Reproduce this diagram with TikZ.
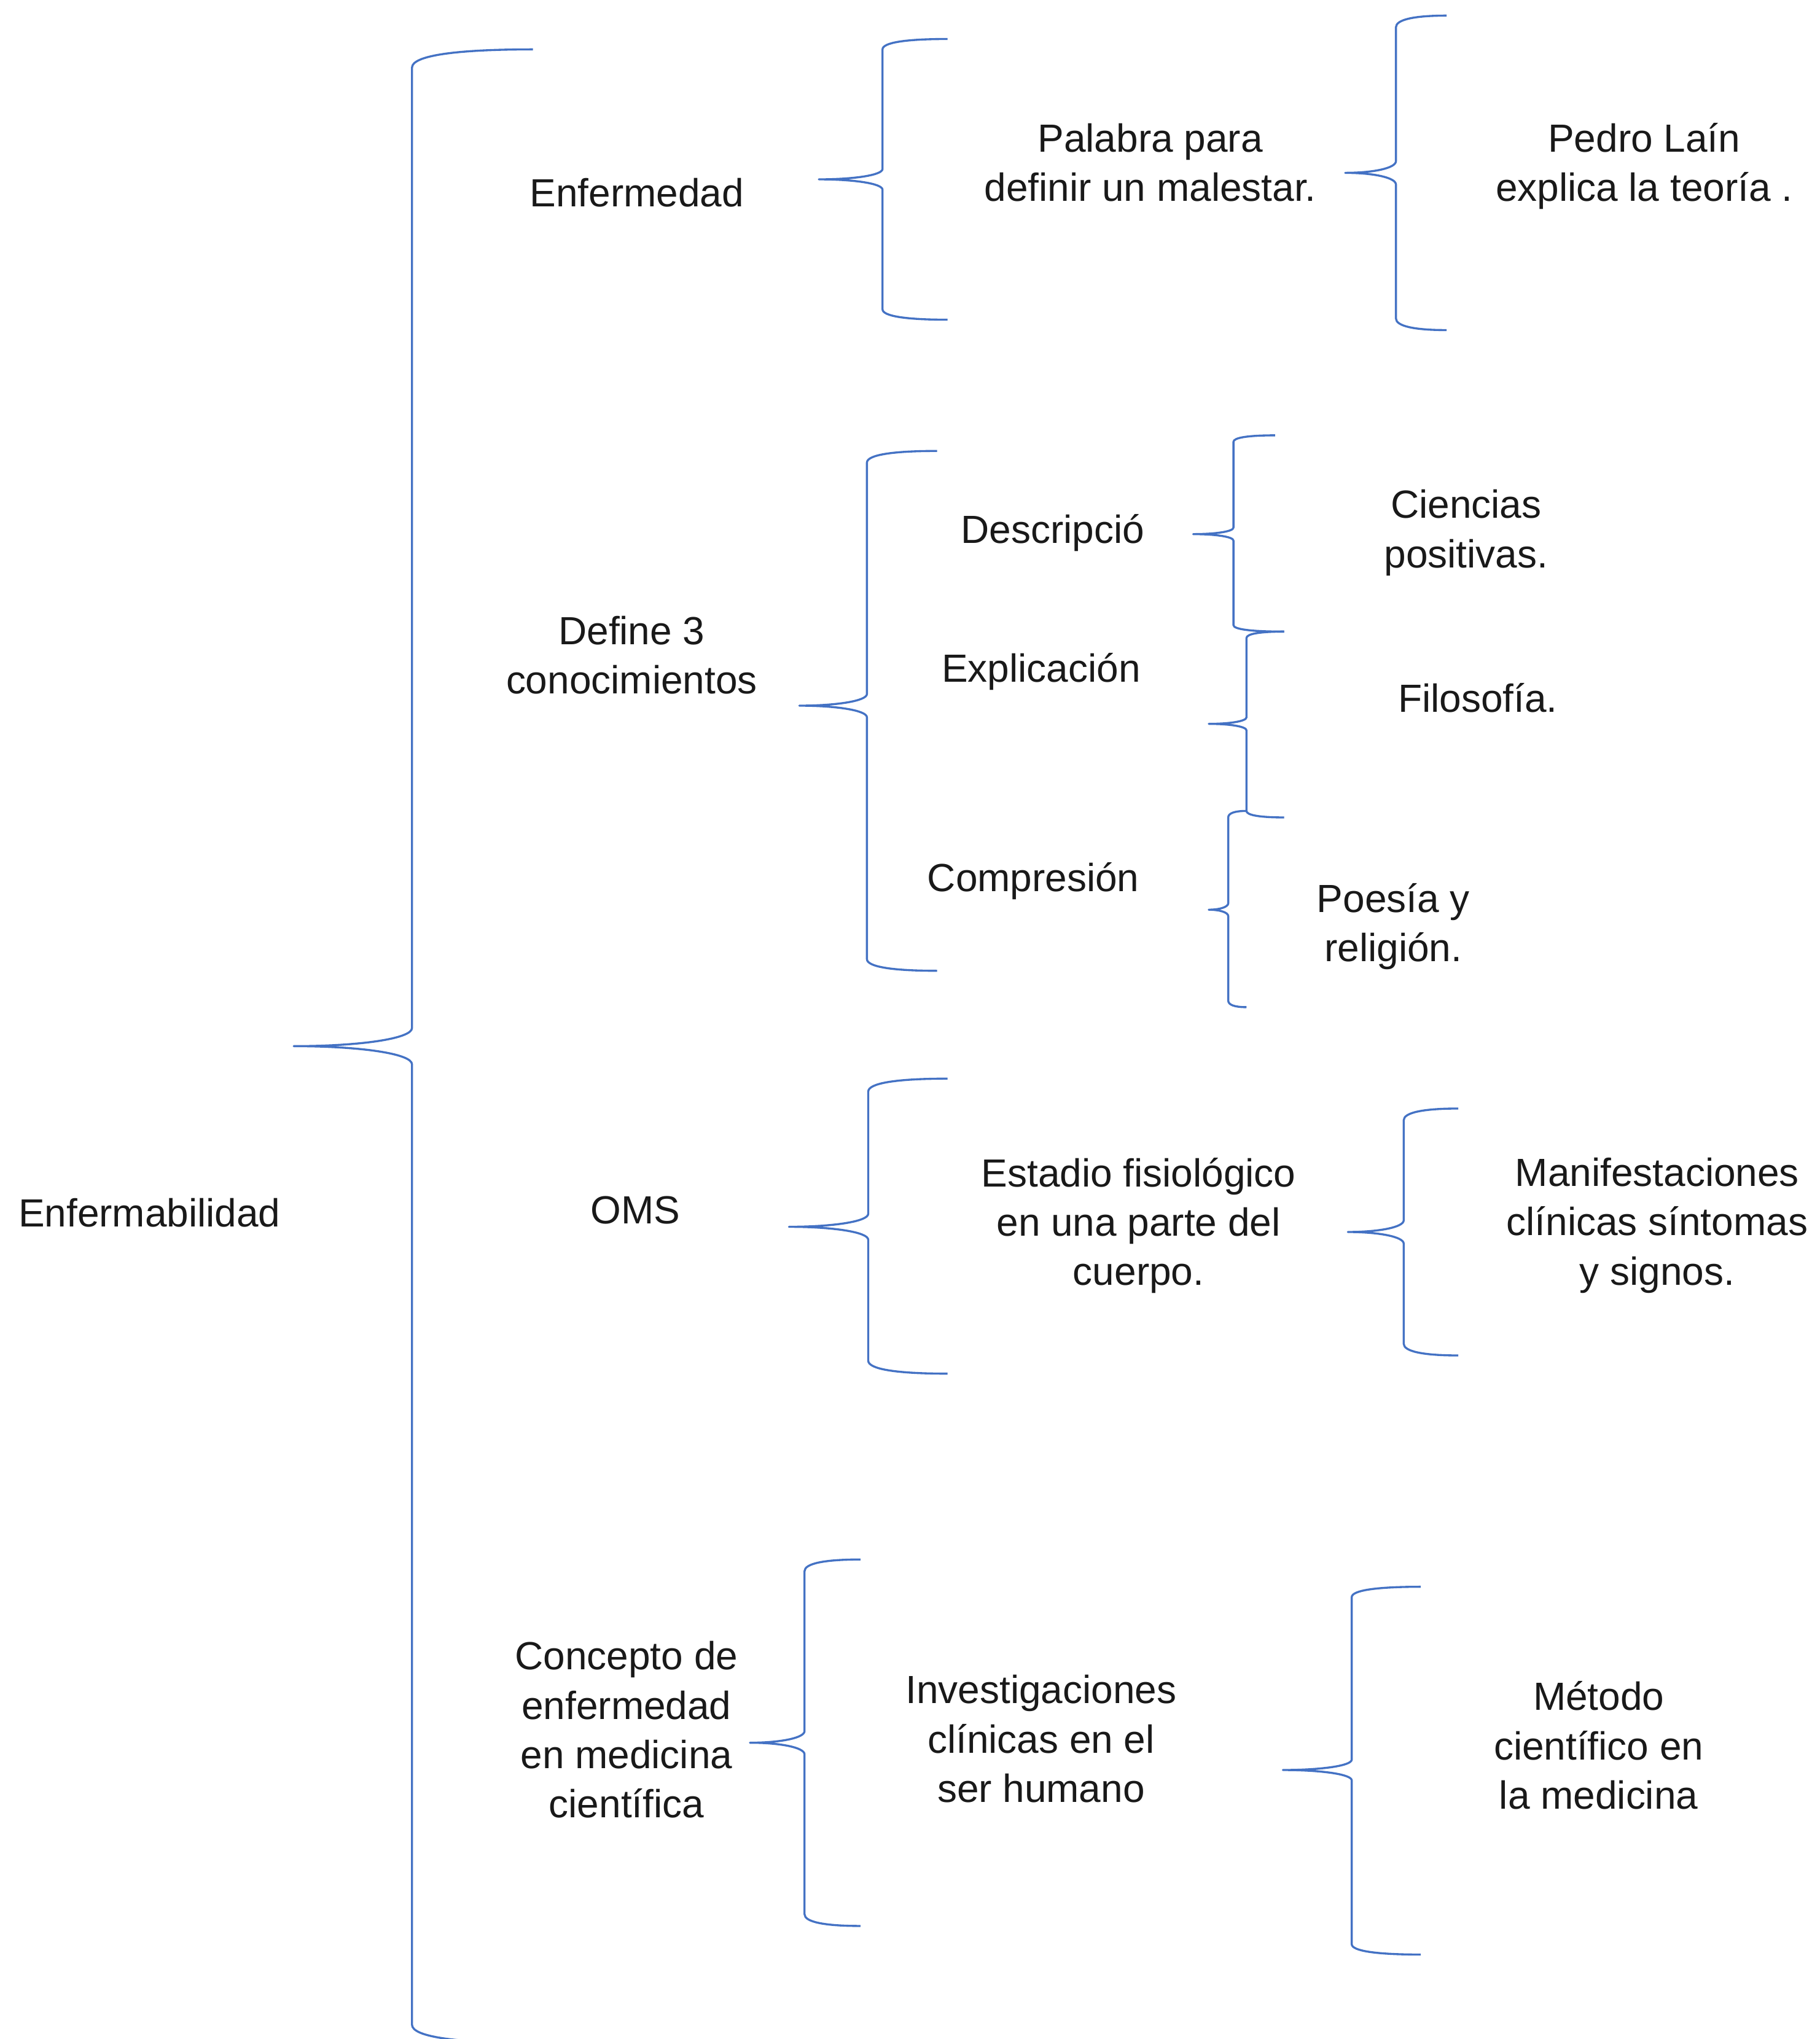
\documentclass[tikz,border=0pt]{standalone}
\usepackage{fontspec}
\setmainfont{Liberation Sans}
\definecolor{azul}{HTML}{4472C4}

% llave: nombre, x recta, y arriba, y abajo, x punta, y punta, x fin arriba, x fin abajo, radio
\newcommand{\llave}[9]{
    \coordinate (#1) at (#5,#6);
    \draw[llave] (#7,#3) .. controls ({#2+0.35*(#7-#2)},#3) and (#2,{#3+0.35*#9}) .. (#2,{#3+#9})
        -- (#2,{#6-#9}) .. controls (#2,{#6-0.4*#9}) and ({#2-0.45*(#2-#5)},#6) .. (#1)
        .. controls ({#2-0.45*(#2-#5)},#6) and (#2,{#6+0.4*#9}) .. (#2,{#6+#9})
        -- (#2,{#4-#9}) .. controls (#2,{#4-0.35*#9}) and ({#2+0.35*(#8-#2)},#4) .. (#8,#4);
}

\tikzset{
    texto/.style={align=center, inner sep=0pt, text=black!90,
        font=\fontsize{17.2}{21.6}\selectfont},
    llave/.style={draw=azul, line width=0.9pt, line join=round}
}

\begin{document}
\begin{tikzpicture}[x=0.02cm, y=-0.02cm]
    \useasboundingbox (0,0) rectangle (1400,1569);

    % Textos
    \node[texto] (enfermabilidad) at (115,933) {Enfermabilidad};
    \node[texto] (enfermedad) at (490,148) {Enfermedad};
    \node[texto] (palabra) at (885,125) {Palabra para\\definir un malestar.};
    \node[texto] (pedro) at (1265,128) {Pedro Laín\\explica la teoría .};
    \node[texto] (define) at (486,504) {Define 3\\conocimientos};
    \node[texto] (descripcion) at (810,410) {Descripció};
    \node[texto] (explicacion) at (801,517) {Explicación};
    \node[texto] (compresion) at (795,678) {Compresión};
    \node[texto] (ciencias) at (1128,410) {Ciencias\\positivas.};
    \node[texto] (filosofia) at (1137,537) {Filosofía.};
    \node[texto] (poesia) at (1072,713) {Poesía y\\religión.};
    \node[texto] (oms) at (489,931) {OMS};
    \node[texto] (estadio) at (876,943) {Estadio fisiológico\\en una parte del\\cuerpo.};
    \node[texto] (manifestaciones) at (1275,943) {Manifestaciones\\clínicas síntomas\\y signos.};
    \node[texto] (concepto) at (482,1331) {Concepto de\\enfermedad\\en medicina\\científica};
    \node[texto] (investigaciones) at (801,1338) {Investigaciones\\clínicas en el\\ser humano};
    \node[texto] (metodo) at (1230,1343) {Método\\científico en\\la medicina};

    % Llaves
    \foreach \n/\xv/\yt/\yb/\xp/\yp/\xa/\xb/\r in {
        principal/317/38/1572/226/805/410/410/14,
        l-enfermedad/679/30/246/630/138/729/729/8,
        l-palabra/1074/12/254/1035/133/1113/1113/9,
        l-define/667/347/747/615/543/721/721/9,
        l-descripcion/949/335/486/918/411/981/988/5,
        l-explicacion/959/486/629/930/557/988/988/5,
        l-compresion/945/624/775/930/700/959/959/5,
        l-oms/668/830/1057/607/944/729/729/10,
        l-estadio/1080/853/1043/1037/948/1122/1122/9,
        l-concepto/619/1200/1482/577/1341/662/662/9,
        l-investigaciones/1040/1221/1504/987/1362/1093/1093/8}{
        \llave{\n}{\xv}{\yt}{\yb}{\xp}{\yp}{\xa}{\xb}{\r}
    }
\end{tikzpicture}
\end{document}
